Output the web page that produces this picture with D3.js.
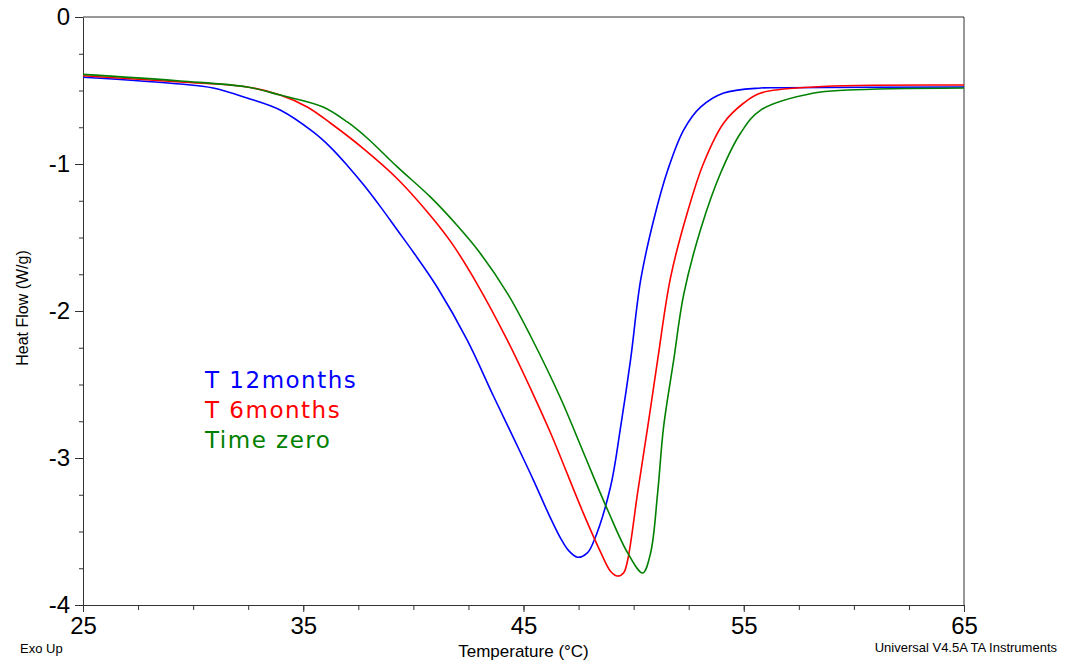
<!DOCTYPE html>
<html>
<head>
<meta charset="utf-8">
<script src="https://cdn.jsdelivr.net/npm/d3@7"></script>
<style>
  body { margin: 0; background: #fff; }
  svg { font-family: "Liberation Sans", Arial, sans-serif; }
  .axis path, .axis line { stroke: #333; }
  .axis text { fill: #000; font-size: 24px; }
</style>
</head>
<body>
<div id="chart"></div>
<script>
// heat flow curves (temperature °C, heat flow W/g)
const temp12 = [25, 29.41, 30.91, 32.45, 33.95, 35.45, 36.23, 37.0, 37.73, 38.5, 39.27, 40.0, 41.09, 42.45, 43.64,
  44.6, 45.45, 46.2, 46.7, 47.05, 47.45, 47.9, 48.18, 48.95, 49.41, 49.86, 50.32, 50.91, 51.55, 52.27, 53.05, 54.09, 55.77, 56.7, 65];
const flow12 = [-0.41, -0.456, -0.483, -0.551, -0.633, -0.782, -0.885, -1.01, -1.14, -1.29, -1.449, -1.60, -1.84, -2.20, -2.58,
  -2.88, -3.15, -3.40, -3.55, -3.63, -3.675, -3.645, -3.57, -3.197, -2.789, -2.333, -1.789, -1.381, -1.041, -0.769, -0.612, -0.517, -0.483, -0.481, -0.476];

const temp6 = [25, 29.41, 32.45, 33.95, 35.18, 36.23, 37.73, 39.27, 40.77, 41.75, 42.91, 44.27, 45.45, 46.23,
  47.73, 48.5, 48.95, 49.27, 49.55, 49.73, 50.18, 50.64, 51.09, 51.68, 52.45, 53.18, 54.09, 55.0, 55.77, 58.18, 65];
const flow6 = [-0.40, -0.442, -0.476, -0.531, -0.612, -0.721, -0.895, -1.10, -1.35, -1.54, -1.82, -2.20, -2.57, -2.83,
  -3.38, -3.64, -3.77, -3.803, -3.78, -3.694, -3.238, -2.789, -2.333, -1.77, -1.325, -0.993, -0.721, -0.585, -0.517, -0.476, -0.463];

const temp0 = [25, 29.41, 32.45, 33.95, 35.9, 37.0, 37.9, 39.27, 40.77, 42.0, 43.0, 44.27, 45.32, 46.68, 47.73,
  48.82, 49.73, 50.41, 50.77, 51.09, 51.36, 51.82, 52.27, 53.05, 53.95, 54.86, 55.77, 58.18, 59.73, 65];
const flow0 = [-0.39, -0.435, -0.476, -0.531, -0.612, -0.714, -0.823, -1.02, -1.224, -1.42, -1.60, -1.88, -2.17, -2.592, -2.966,
  -3.354, -3.646, -3.782, -3.646, -3.238, -2.789, -2.333, -1.89, -1.44, -1.061, -0.789, -0.633, -0.517, -0.497, -0.483];

const seriesNames = ["T 12months", "T 6months", "Time zero"];
const seriesColors = ["#0000ff", "#ff0000", "#008000"];
const xTicks = [25, 35, 45, 55, 65];
const yTicks = [0, -1, -2, -3, -4];

const series = [
  {name: seriesNames[0], color: seriesColors[0], pts: temp12.map((t, i) => [t, flow12[i]])},
  {name: seriesNames[1], color: seriesColors[1], pts: temp6.map((t, i) => [t, flow6[i]])},
  {name: seriesNames[2], color: seriesColors[2], pts: temp0.map((t, i) => [t, flow0[i]])}
];

const W = 1069, H = 664;
const margin = {top: 17, right: 105, bottom: 59, left: 83};
const width = W - margin.left - margin.right;
const height = H - margin.top - margin.bottom;

const svg = d3.select('#chart').append('svg')
  .attr('width', W)
  .attr('height', H);

const g = svg.append('g')
  .attr('transform', 'translate(' + margin.left + ',' + margin.top + ')');

const x = d3.scaleLinear().domain([25, 65]).range([0, width]);
const y = d3.scaleLinear().domain([-4, 0]).range([height, 0]);

// frame top and right
g.append('line').attr('x1', 0).attr('x2', width).attr('y1', 0).attr('y2', 0).attr('stroke', '#333');
g.append('line').attr('x1', width).attr('x2', width).attr('y1', 0).attr('y2', height).attr('stroke', '#333');

// minor ticks
g.append('g').attr('class', 'axis')
  .attr('transform', 'translate(0,' + height + ')')
  .call(d3.axisBottom(x).tickValues(d3.range(25, 65.01, 2.5)).tickSize(5).tickFormat(''))
  .select('.domain').remove();
g.append('g').attr('class', 'axis')
  .call(d3.axisLeft(y).tickValues(d3.range(-4, 0.01, 0.25)).tickSize(4).tickFormat(''))
  .select('.domain').remove();

// major ticks (plain hyphen for minus, like the original)
g.append('g').attr('class', 'axis')
  .attr('transform', 'translate(0,' + height + ')')
  .call(d3.axisBottom(x).tickValues(xTicks).tickSize(7).tickSizeOuter(0).tickPadding(5).tickFormat(d => String(d)));
g.append('g').attr('class', 'axis')
  .call(d3.axisLeft(y).tickValues(yTicks).tickSize(8).tickSizeOuter(0).tickPadding(5).tickFormat(d => String(d)));

const line = d3.line()
  .x(d => x(d[0]))
  .y(d => y(d[1]))
  .curve(d3.curveCatmullRom.alpha(0.5));

g.selectAll('.curve')
  .data(series)
  .enter().append('path')
  .attr('class', 'curve')
  .attr('fill', 'none')
  .attr('stroke', d => d.color)
  .attr('stroke-width', 1.6)
  .attr('d', d => line(d.pts));

// legend text
g.selectAll('.legend')
  .data(series)
  .enter().append('text')
  .attr('class', 'legend')
  .attr('x', 122)
  .attr('y', (d, i) => 371 + i * 30)
  .attr('fill', d => d.color)
  .style('font-family', '"DejaVu Sans", sans-serif')
  .style('font-size', '23px')
  .style('letter-spacing', '1.5px')
  .text(d => d.name);

svg.append('text')
  .attr('x', margin.left + width / 2)
  .attr('y', 657)
  .attr('text-anchor', 'middle')
  .style('font-size', '17px')
  .text('Temperature (°C)');

svg.append('text')
  .attr('transform', 'translate(28,' + (margin.top + height / 2 - 3) + ') rotate(-90)')
  .attr('text-anchor', 'middle')
  .style('font-size', '16px')
  .text('Heat Flow (W/g)');

svg.append('text')
  .attr('x', 20).attr('y', 653)
  .style('font-size', '13px')
  .text('Exo Up');

svg.append('text')
  .attr('x', 1057).attr('y', 652)
  .attr('text-anchor', 'end')
  .style('font-size', '13px')
  .text('Universal V4.5A TA Instruments');
</script>
</body>
</html>
